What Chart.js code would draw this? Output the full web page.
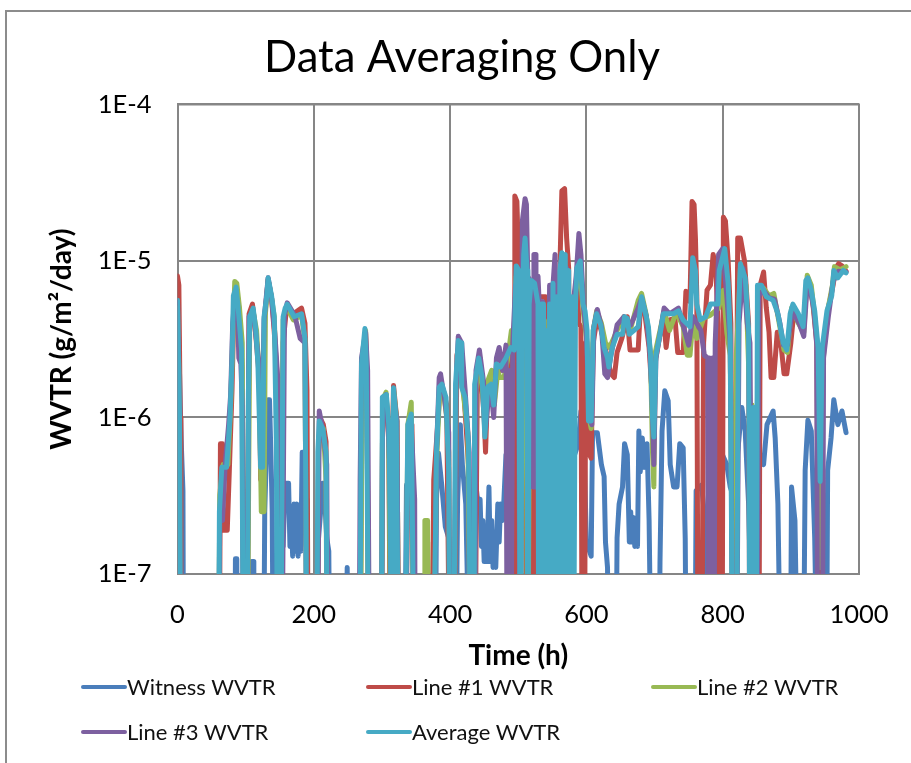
<!DOCTYPE html>
<html><head><meta charset="utf-8">
<script src="https://cdn.jsdelivr.net/npm/chart.js@4"></script>
<style>
html,body{margin:0;padding:0;background:#fff;overflow:hidden}
#frame{position:absolute;left:5px;top:10px;width:920px;height:770px;border:2px solid #8c8c8c;box-sizing:border-box}
#wrap{position:absolute;left:12px;top:0;width:899px;height:763px}
.leg{position:absolute;font:22px Lato,sans-serif;color:#111;line-height:24px;white-space:nowrap;display:flex;align-items:center}
.leg i{display:block;width:46px;height:4.5px;border-radius:2px;margin-right:0}
</style></head><body>
<div id="frame"></div>
<div id="wrap"><canvas id="c" width="899" height="763"></canvas></div>
<div id="legend"></div>
<script>
const chartTitle = "Data Averaging Only";
const xAxisTitle = "Time (h)";
const yAxisTitle = "WVTR (g/m²/day)";
const xTicks = [0,200,400,600,800,1000];
const xTickLabels = ["0","200","400","600","800","1000"];
const yTicks = [1e-7,1e-6,1e-5,1e-4];
const yTickLabels = ["1E-7","1E-6","1E-5","1E-4"];
const seriesNames = ["Witness WVTR","Line #1 WVTR","Line #2 WVTR","Line #3 WVTR","Average WVTR"];
const seriesColors = ["#4A7EBB","#BE4B48","#98B954","#7D60A0","#46AAC5"];

const witness = [[0,5e-6],[2,3e-6],[4,1.2e-6],[6,6e-7],[8,3.4e-7],[9,1e-8],[84,1e-8],[85,1.25e-7],[87,1.25e-7],[88,1e-8],[108,1e-8],[109,1.2e-7],[111,1.2e-7],[112,1e-8],[126,1e-8],[128,2.5e-7],[130,5e-7],[133,1.3e-6],[135,1.3e-6],[137,6e-7],[139,2.5e-7],[141,1e-8],[148,1e-8],[149,2e-7],[152,2e-7],[155,1.5e-7],[158,3.8e-7],[163,3.8e-7],[165,1.5e-7],[167,2.2e-7],[169,1.3e-7],[171,2.8e-7],[173,1.4e-7],[175,2.8e-7],[177,1.3e-7],[179,2.2e-7],[181,1.4e-7],[183,6e-7],[187,6e-7],[189,1.5e-7],[190,3e-7],[192,1e-8],[204,1e-8],[206,1.5e-7],[210,2.5e-7],[213,3.8e-7],[216,3e-7],[219,1.7e-7],[222,1.4e-7],[224,1e-8],[247,1e-8],[249,1.1e-7],[251,1e-8],[333,1e-8],[336,3.7e-7],[344,3.7e-7],[348,1e-8],[378,1e-8],[380,3e-7],[383,5.9e-7],[388,3.6e-7],[393,2e-7],[398,1.7e-7],[403,1e-8],[408,1e-8],[411,3e-7],[415,9e-7],[418,5e-7],[423,2.8e-7],[430,1e-8],[434,1e-8],[437,4e-7],[441,2.8e-7],[444,3e-7],[446,1.5e-7],[448,2.2e-7],[450,1.2e-7],[452,2e-7],[454,1.2e-7],[457,3.6e-7],[459,1.2e-7],[461,2.2e-7],[463,1.1e-7],[465,1.8e-7],[467,1.1e-7],[470,2.8e-7],[472,1.6e-7],[474,2.8e-7],[477,2.2e-7],[479,3e-7],[482,5.8e-7],[487,5.8e-7],[489,9e-7],[493,9e-7],[497,1.3e-7],[503,6e-7],[512,1e-6],[518,5e-7],[528,6e-7],[540,6e-7],[552,4e-7],[565,5e-7],[578,5e-7],[588,6.8e-7],[592,1.1e-6],[596,8e-7],[600,1.6e-7],[607,1.3e-7],[609,8e-7],[616,8e-7],[622,5e-7],[626,4.2e-7],[628,1.6e-7],[631,1.1e-7],[633,1e-8],[643,1e-8],[645,1.7e-7],[648,2.8e-7],[653,3.6e-7],[656,6.8e-7],[660,5.8e-7],[663,1.6e-7],[665,2.5e-7],[667,1.6e-7],[669,2.3e-7],[671,1.5e-7],[673,2e-7],[675,1.5e-7],[677,8.2e-7],[679,4.5e-7],[682,7.4e-7],[685,4.8e-7],[689,6.8e-7],[692,2.2e-7],[696,1e-8],[706,1e-8],[708,1.2e-7],[711,8.2e-7],[715,1.48e-6],[720,1.28e-6],[723,5e-7],[728,3.6e-7],[733,3.6e-7],[737,6.8e-7],[742,6.4e-7],[745,1.7e-7],[747,1e-8],[759,1e-8],[761,3.4e-7],[769,3.7e-7],[774,2.2e-7],[777,1e-8],[787,1e-8],[789,1.7e-7],[792,1.28e-6],[798,6e-7],[806,5e-7],[811,3.6e-7],[817,3e-7],[822,6e-7],[828,1.16e-6],[833,8.2e-7],[838,2.8e-7],[846,1e-8],[851,2.8e-7],[855,5.8e-7],[860,5e-7],[865,9e-7],[874,1.1e-6],[877,7.4e-7],[881,2.8e-7],[886,1e-8],[899,1e-8],[901,3.6e-7],[906,2.2e-7],[911,1e-8],[918,1e-8],[921,4.6e-7],[925,9.6e-7],[930,8.2e-7],[935,1.7e-7],[940,1e-8],[952,1e-8],[954,4.6e-7],[959,7.4e-7],[963,1.3e-6],[969,9e-7],[975,1.1e-6],[981,8e-7]];

const line1 = [[0,8e-6],[2,7e-6],[4,1e-6],[5,1e-8],[61,1e-8],[63,6.8e-7],[66,6.8e-7],[67,1.9e-7],[73,1.9e-7],[76,4.5e-7],[80,1.5e-6],[83,5.5e-6],[87,6.5e-6],[90,5e-6],[95,2e-6],[98,1e-8],[102,1e-8],[105,4.6e-6],[110,5.3e-6],[115,3.3e-6],[120,1.8e-6],[122,4e-7],[125,1.4e-6],[128,4.4e-6],[133,7.6e-6],[138,5.8e-6],[142,3.5e-6],[146,1.9e-6],[148,1e-8],[151,1e-8],[155,3e-6],[160,5e-6],[170,4.6e-6],[182,5e-6],[187,4e-6],[190,1.5e-6],[192,1e-8],[205,1e-8],[207,6e-7],[209,1e-6],[214,9e-7],[218,7e-7],[220,1e-8],[267,1e-8],[271,1.8e-6],[276,3.5e-6],[278,1.7e-6],[281,1e-8],[299,1e-8],[301,1.2e-6],[306,1.35e-6],[310,7e-7],[313,1e-8],[315,6e-7],[317,1.6e-6],[322,9.5e-7],[325,1e-8],[334,1e-8],[338,7e-7],[344,9e-7],[348,1e-8],[364,1e-8],[365,1.6e-7],[367,1.6e-7],[368,1e-8],[373,1e-8],[376,4e-7],[381,8e-7],[385,1.5e-6],[390,1.5e-6],[395,1.2e-6],[400,1e-8],[405,1e-8],[410,2.5e-6],[414,3e-6],[420,1.5e-6],[427,5e-7],[431,1e-8],[436,1e-8],[440,1.9e-6],[444,2.3e-6],[450,1e-6],[452,6e-7],[455,1.5e-6],[462,1.4e-6],[467,2e-6],[477,2e-6],[486,2.5e-6],[490,1.5e-6],[494,1e-8],[495,2.6e-5],[498,2.4e-5],[500,1.2e-5],[505,6e-6],[510,6e-6],[513,1e-8],[516,3.6e-7],[518,1e-8],[520,3.6e-7],[522,1e-8],[524,3.6e-7],[526,1e-8],[528,3.6e-7],[530,5.9e-6],[540,5.9e-6],[544,4e-6],[548,1e-8],[552,6e-6],[556,1e-8],[560,6e-6],[564,2.8e-5],[568,2.9e-5],[571,1.4e-5],[574,9e-6],[577,1e-8],[581,5e-6],[586,8e-6],[589,4e-6],[592,3.8e-6],[594,1e-8],[597,1e-8],[599,3e-6],[603,6e-7],[607,5.5e-7],[610,3e-6],[616,4.4e-6],[624,3.3e-6],[630,2.5e-6],[636,1.9e-6],[641,1.8e-6],[645,2.6e-6],[652,3.2e-6],[660,4.4e-6],[664,2.7e-6],[676,2.7e-6],[680,5.8e-6],[686,4.5e-6],[692,2.8e-6],[696,1.5e-6],[702,2.4e-6],[708,3.4e-6],[713,4.4e-6],[717,2.8e-6],[722,4.2e-6],[730,4.3e-6],[734,2.6e-6],[742,2.6e-6],[746,6.4e-6],[752,5.5e-6],[755,2.4e-5],[758,2.3e-5],[760,1.4e-5],[762,6e-6],[764,1e-8],[769,1e-8],[772,3e-6],[777,6.5e-6],[782,7e-6],[786,1.1e-5],[790,9e-6],[793,4e-6],[795,1e-8],[797,2e-6],[799,1e-8],[801,1.9e-5],[804,1.8e-5],[808,1e-5],[812,4e-6],[815,1e-8],[818,1e-8],[822,1.4e-5],[826,1.4e-5],[832,1e-5],[838,4e-6],[840,1e-8],[853,1e-8],[855,7e-6],[860,8.5e-6],[864,5e-6],[868,3.5e-6],[871,1.8e-6],[875,1.8e-6],[880,3.5e-6],[886,2.8e-6],[890,1.9e-6],[894,1.9e-6],[900,3e-6],[905,5e-6],[912,4.2e-6],[918,3.5e-6],[923,7e-6],[926,7.6e-6],[932,5.5e-6],[938,3e-6],[942,1e-8],[945,1e-8],[947,2.5e-6],[955,5e-6],[962,7e-6],[966,9e-6],[970,9.6e-6],[975,9.3e-6],[981,8.6e-6]];

const line2 = [[0,5e-6],[2,2e-6],[3,1e-8],[60,1e-8],[62,3.2e-7],[67,5e-7],[74,5e-7],[78,1.2e-6],[81,3e-6],[84,7.4e-6],[87,7.2e-6],[91,5e-6],[95,3e-6],[98,1e-8],[102,1e-8],[106,4.2e-6],[111,4.8e-6],[116,3.6e-6],[120,1.8e-6],[122,4.8e-7],[123,2.5e-7],[127,2.5e-7],[129,4.6e-6],[133,7.6e-6],[138,5.8e-6],[142,4.4e-6],[146,1.2e-6],[148,1e-8],[151,1e-8],[155,4.2e-6],[160,5.1e-6],[170,4.2e-6],[182,4.5e-6],[187,3.1e-6],[190,1e-8],[204,1e-8],[207,6e-7],[209,9e-7],[214,8.5e-7],[218,4e-7],[220,1e-8],[268,1e-8],[271,2e-6],[276,3.6e-6],[278,1.5e-6],[281,1e-8],[299,1e-8],[301,1.3e-6],[306,1.45e-6],[310,8e-7],[314,1e-8],[317,1.5e-6],[322,9.5e-7],[325,1e-8],[334,1e-8],[338,9e-7],[343,1.25e-6],[348,1e-8],[362,1e-8],[363,2.2e-7],[367,2.2e-7],[369,1e-8],[375,1e-8],[380,5e-7],[385,1.6e-6],[390,1.5e-6],[395,1e-6],[398,6e-7],[400,1e-8],[405,1e-8],[409,1.4e-6],[413,2.8e-6],[418,1.6e-6],[426,8e-7],[431,1e-8],[435,1e-8],[438,1.5e-6],[444,2.4e-6],[450,1.1e-6],[455,1.7e-6],[461,2e-6],[465,1.2e-6],[470,2e-6],[473,1.8e-6],[479,1.8e-6],[484,2.3e-6],[490,3.6e-6],[494,3.6e-6],[497,8e-6],[501,8e-6],[503,1e-8],[506,4e-6],[511,1.2e-5],[514,1e-8],[517,5e-6],[529,4.8e-6],[532,1e-8],[535,4.4e-6],[541,4e-6],[544,1e-8],[550,5e-6],[553,1e-8],[557,5e-6],[560,1e-8],[565,1e-5],[568,1e-8],[571,8e-6],[575,1e-8],[580,5e-6],[590,9e-6],[596,4.5e-6],[601,3e-6],[604,1e-6],[607,8.5e-7],[610,3.6e-6],[615,4.8e-6],[622,4e-6],[628,3e-6],[634,2.8e-6],[645,3.6e-6],[655,4.4e-6],[665,3.7e-6],[676,5.6e-6],[681,6.2e-6],[688,4.5e-6],[694,2.6e-6],[697,6e-7],[699,3.6e-7],[701,2.6e-6],[708,3.6e-6],[714,4.8e-6],[722,3.6e-6],[732,4.7e-6],[742,3.8e-6],[748,2.5e-6],[752,2.5e-6],[756,4e-6],[762,3.2e-6],[772,4.3e-6],[782,4.5e-6],[794,5e-6],[801,6.5e-6],[806,3.5e-6],[811,2.5e-6],[816,1e-8],[820,2.5e-6],[826,9e-6],[834,7e-6],[840,1.2e-6],[843,1.2e-6],[848,1e-8],[852,6.5e-6],[860,6.7e-6],[868,6e-6],[875,6.2e-6],[882,4.2e-6],[890,2.7e-6],[895,2.6e-6],[901,5e-6],[911,4e-6],[919,3.5e-6],[924,8.1e-6],[930,7e-6],[936,4e-6],[940,2.5e-6],[940.5,4e-7],[941,1.1e-7],[945,1.1e-7],[945.5,4e-7],[946,1e-6],[948,2.5e-6],[954,4.8e-6],[961,7e-6],[964,9.2e-6],[972,8.8e-6],[981,9.2e-6]];

const line3 = [[0,5.5e-6],[2,2e-6],[3,1e-8],[60,1e-8],[62,2.5e-7],[66,2.2e-7],[70,5e-7],[75,9e-7],[78,1.4e-6],[81,4e-6],[85,6.4e-6],[88,5e-6],[90,2.4e-6],[93,2.2e-6],[95,1.2e-6],[97,1e-8],[101,1e-8],[105,4.4e-6],[111,4.8e-6],[117,2.8e-6],[121,1.9e-6],[124,7e-7],[127,4.2e-6],[133,7.8e-6],[138,5.8e-6],[143,3.4e-6],[147,1.8e-6],[150,1e-8],[153,1e-8],[157,4.5e-6],[161,5.4e-6],[172,4.5e-6],[180,3.2e-6],[187,3e-6],[190,1e-8],[205,1e-8],[208,1.1e-6],[214,8e-7],[219,5e-7],[221,1e-8],[266,1e-8],[268,4e-7],[270,2.4e-6],[276,3.5e-6],[279,2e-6],[282,1e-8],[299,1e-8],[301,1.2e-6],[306,1.4e-6],[310,7.5e-7],[312,4e-7],[314,1e-8],[317,1.4e-6],[322,9.5e-7],[325,1e-8],[334,1e-8],[338,6e-7],[343,9e-7],[348,3e-7],[349,1e-8],[376,1e-8],[380,6e-7],[384,1.8e-6],[386,1.9e-6],[392,1.3e-6],[398,8e-7],[400,1e-8],[405,1e-8],[409,1.6e-6],[412,3.3e-6],[417,3e-6],[422,1.5e-6],[428,6e-7],[431,1e-8],[436,1e-8],[438,2e-6],[443,2.7e-6],[449,1.7e-6],[452,8.5e-7],[456,1.3e-6],[460,1.5e-6],[464,1e-6],[468,2.4e-6],[472,2.8e-6],[477,2e-6],[482,2.9e-6],[484,1e-8],[486,2e-6],[489,1e-8],[492,3e-6],[496,7e-6],[500,7e-6],[503,1e-8],[506,1.8e-5],[510,2.5e-5],[512,2.3e-5],[514,8e-6],[517,7.5e-6],[518,3.6e-7],[520,1.7e-6],[522,3.6e-7],[523,1.1e-5],[525,1.1e-5],[526,3.6e-7],[528,1.7e-6],[529,8e-6],[531,5e-6],[536,5.5e-6],[540,1e-8],[546,7e-6],[551,7e-6],[554,1.1e-5],[557,1e-8],[562,7e-6],[568,1e-8],[571,9e-6],[574,1e-8],[580,5e-6],[585,8e-6],[589,1.5e-5],[592,1.1e-5],[596,5e-6],[600,3.4e-6],[604,1e-6],[608,9e-7],[611,3.8e-6],[616,4.9e-6],[622,3.8e-6],[627,1.9e-6],[631,1.8e-6],[636,2.5e-6],[645,3.9e-6],[655,4.4e-6],[665,3.9e-6],[676,5e-6],[681,5.8e-6],[688,4.4e-6],[693,2.7e-6],[696,1.5e-6],[699,5e-7],[702,2.4e-6],[708,3.4e-6],[714,5e-6],[722,4.6e-6],[735,5e-6],[744,3.6e-6],[750,2.9e-6],[756,4.4e-6],[762,4e-6],[768,3.6e-6],[773,2.5e-6],[778,2.4e-6],[779,1e-8],[781,2.4e-6],[783,1e-8],[785,2.4e-6],[787,1e-8],[789,3e-6],[794,1.1e-5],[800,1.2e-5],[806,6e-6],[811,3e-6],[816,1e-8],[820,1e-8],[824,4e-6],[830,9e-6],[836,4e-6],[840,3e-6],[844,1e-8],[850,1e-8],[853,6e-6],[860,6.5e-6],[868,5.8e-6],[876,5.7e-6],[884,4e-6],[889,2.9e-6],[895,2.9e-6],[902,4.8e-6],[912,4e-6],[919,3.3e-6],[924,7.2e-6],[928,6.8e-6],[934,4.8e-6],[938,2.9e-6],[939.5,1e-8],[946,1e-8],[948,2.4e-6],[955,4.4e-6],[962,7.4e-6],[970,8.6e-6],[981,8.5e-6]];

const average = [[0,5.6e-6],[1,3e-6],[3,1e-6],[5,1e-8],[60,1e-8],[61.5,2.5e-7],[65,4.8e-7],[72,4.8e-7],[77,1e-6],[80,2.3e-6],[82,6e-6],[86,6.8e-6],[89,5e-6],[94,2.7e-6],[97,1e-8],[102,1e-8],[104,1.4e-6],[106,4.4e-6],[111,5e-6],[115,3.6e-6],[118,2.2e-6],[122,4.8e-7],[125,4.8e-7],[127,4.4e-6],[131,6e-6],[133,7.8e-6],[138,6e-6],[142,4.4e-6],[145,7e-7],[147,1e-8],[151,1e-8],[155,4.4e-6],[158,5e-6],[161,5.3e-6],[171,4.4e-6],[182,4.6e-6],[187,3.2e-6],[190,1e-8],[204,1e-8],[206,6e-7],[208,9.5e-7],[213,8.5e-7],[218,6e-7],[220,1e-8],[267,1e-8],[270,2.2e-6],[275,3.7e-6],[277,2.2e-6],[281,1e-8],[299,1e-8],[300.6,1.35e-6],[306.5,1.4e-6],[310,9e-7],[312,2.5e-7],[315,1e-8],[317,1.55e-6],[321,9.5e-7],[325,1e-8],[333,1e-8],[338,9e-7],[343,1.05e-6],[348,1e-8],[375,1e-8],[380,5.9e-7],[384,1.56e-6],[388,1.63e-6],[394,1.34e-6],[398,4.5e-7],[400,1e-8],[405,1e-8],[408,1.63e-6],[412,3.1e-6],[416,3e-6],[417,1.56e-6],[422,1.34e-6],[427,6.7e-7],[431,1e-8],[435,1e-8],[436,1.63e-6],[442,2.4e-6],[447,1.8e-6],[451,7.5e-7],[455,1.56e-6],[460,1.63e-6],[464,1.2e-6],[468,2.2e-6],[474,2.1e-6],[482,2.4e-6],[489,2.8e-6],[494,2.7e-6],[497,9.3e-6],[501,8.7e-6],[503,1e-8],[506,4.2e-6],[508,1.1e-5],[510,1.4e-5],[513,8.7e-6],[514,1e-8],[516,5.3e-6],[519,7.5e-6],[524,7.2e-6],[529,5.3e-6],[530,1e-8],[534,5.3e-6],[537,5.3e-6],[539,1e-8],[541,3.6e-6],[544,1e-8],[546,5.3e-6],[549,1e-8],[551,7.2e-6],[554,1e-8],[556,5.9e-6],[559,1e-8],[561,8.7e-6],[564,1.13e-5],[566,1e-8],[569,1.1e-5],[571,1e-8],[574,8.7e-6],[576,1e-8],[579,5.9e-6],[581,1e-8],[584,5.3e-6],[586,9e-6],[591,1e-5],[595,5.3e-6],[598,4.8e-6],[601,3.6e-6],[603,9.5e-7],[607,9.5e-7],[610,3.6e-6],[615,4.6e-6],[621,3.9e-6],[626,2.8e-6],[631,2.4e-6],[633,2.1e-6],[638,2.8e-6],[645,3.4e-6],[653,3.4e-6],[656,4.4e-6],[660,4.3e-6],[663,3.4e-6],[670,3.6e-6],[676,3.8e-6],[681,5.9e-6],[686,4.8e-6],[691,3.8e-6],[694,2.5e-6],[697,1e-6],[699,7.5e-7],[702,2.5e-6],[708,3.4e-6],[713,4.6e-6],[718,4.6e-6],[728,4.6e-6],[735,4.8e-6],[742,4.2e-6],[752,3.8e-6],[756,1.05e-5],[760,8.7e-6],[762,5.3e-6],[767,4.2e-6],[775,4.4e-6],[782,5.3e-6],[793,5.3e-6],[795,8.7e-6],[803,1.2e-5],[808,7.2e-6],[811,3.4e-6],[815,1e-8],[820,1e-8],[823,4.4e-6],[826,9.6e-6],[833,7.8e-6],[838,3.6e-6],[840,1e-8],[843,1e-8],[845,1.16e-6],[847,1.16e-6],[849,1e-8],[851,7e-6],[857,7e-6],[864,5.9e-6],[874,5.6e-6],[881,4.6e-6],[889,3e-6],[894,2.7e-6],[899,4.6e-6],[903,5.3e-6],[911,4.6e-6],[918,3.8e-6],[922,7.5e-6],[925,7.8e-6],[930,6.5e-6],[935,4.8e-6],[940,2.8e-6],[943,3.9e-7],[946,2.8e-6],[953,4.8e-6],[960,6e-6],[963,8.7e-6],[969,7.8e-6],[977,8.7e-6],[981,8.4e-6]];

const seriesData = [witness,line1,line2,line3,average];
const fontFam = "Lato, sans-serif";
const gridColor = '#868686';

new Chart(document.getElementById('c'),{
  type:'line',
  data:{datasets:seriesNames.map((name,i)=>({
    label:name,
    data:seriesData[i].map(p=>({x:p[0],y:p[1]})),
    borderColor:seriesColors[i],
    backgroundColor:seriesColors[i],
    borderWidth:5,
    pointRadius:0,
    tension:0,
    fill:false,
    borderJoinStyle:'round',
    borderCapStyle:'round',
    order:seriesNames.length-i
  }))},
  options:{
    responsive:false,animation:false,
    layout:{padding:{top:20,right:52,bottom:90,left:53}},
    plugins:{
      legend:{display:false},
      tooltip:{enabled:false},
      title:{display:true,text:chartTitle,color:'#000',font:{family:fontFam,size:43.7,weight:'normal'},padding:{top:12,bottom:20}}
    },
    scales:{
      x:{type:'linear',min:0,max:1000,
        afterBuildTicks:s=>{s.ticks=xTicks.map(v=>({value:v}));},
        afterFit:s=>{s.height=99;s.paddingLeft=0;s.paddingRight=0;},
        grid:{color:gridColor,lineWidth:2,tickLength:0,drawTicks:false},
        border:{color:gridColor,width:2},
        ticks:{color:'#000',font:{family:fontFam,size:25.5},padding:25,maxRotation:0,
          callback:v=>xTickLabels[xTicks.indexOf(v)]},
        title:{display:true,text:xAxisTitle,color:'#000',font:{family:fontFam,size:28,weight:'bold'},padding:{top:0,bottom:0}}
      },
      y:{type:'logarithmic',min:1e-7,max:1e-4,
        afterBuildTicks:s=>{s.ticks=yTicks.map(v=>({value:v}));},
        afterFit:s=>{s.width=112.5;},
        grid:{color:gridColor,lineWidth:2,tickLength:0,drawTicks:false},
        border:{color:gridColor,width:2},
        ticks:{color:'#000',font:{family:fontFam,size:25.5},padding:26,
          callback:v=>{const k=yTicks.indexOf(v);return k>=0?yTickLabels[k]:'';}},
        title:{display:true,text:yAxisTitle,color:'#000',font:{family:fontFam,size:28,weight:'bold'},padding:{top:-20,bottom:0}}
      }
    }
  },
  plugins:[{id:'plotFrame',beforeDatasetsDraw(c){const a=c.chartArea,x=c.ctx;x.save();x.strokeStyle=gridColor;x.lineWidth=2;x.beginPath();x.moveTo(a.left,a.top);x.lineTo(a.right,a.top);x.lineTo(a.right,a.bottom);x.stroke();x.restore();}}]
});

const legendX=[81,366,651], legendY=[687,732];
const holder=document.getElementById('legend');
seriesNames.forEach((name,i)=>{
  const d=document.createElement('div');d.className='leg';
  d.style.left=legendX[i%3]+'px';d.style.top=(legendY[Math.floor(i/3)]-12)+'px';
  const sw=document.createElement('i');sw.style.background=seriesColors[i];
  d.appendChild(sw);d.appendChild(document.createTextNode(name));holder.appendChild(d);
});
</script>
</body></html>
